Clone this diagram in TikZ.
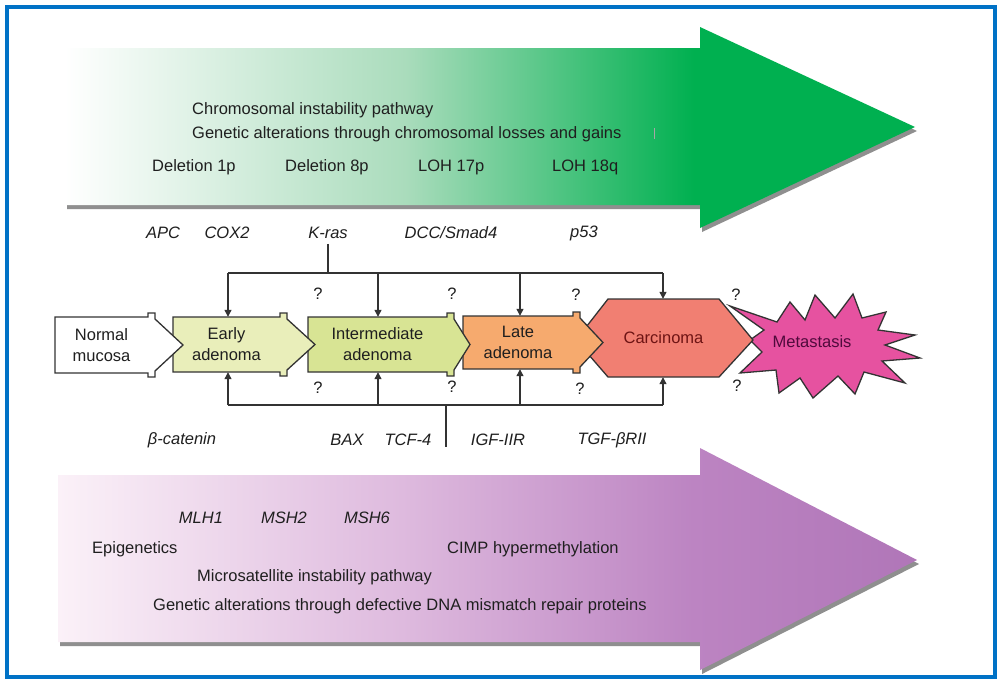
\documentclass[tikz,border=0pt]{standalone}
\usepackage{fontspec}
\setmainfont{Liberation Sans}
\usetikzlibrary{arrows.meta,shadows}
\definecolor{frameblue}{RGB}{0,114,198}
\definecolor{gwhite}{RGB}{255,255,255}
\definecolor{gmid}{RGB}{170,220,188}
\definecolor{gfull}{RGB}{0,176,80}
\definecolor{pwhite}{RGB}{251,241,248}
\definecolor{pmid}{RGB}{222,186,222}
\definecolor{pfull}{RGB}{188,132,194}
\definecolor{pend}{RGB}{176,118,184}
\definecolor{earlyfill}{RGB}{233,238,186}
\definecolor{interfill}{RGB}{216,228,148}
\definecolor{latefill}{RGB}{246,170,110}
\definecolor{carcfill}{RGB}{241,127,114}
\definecolor{metafill}{RGB}{230,82,160}
\definecolor{carctext}{RGB}{110,20,20}
\definecolor{metatext}{RGB}{80,10,60}
\pgfdeclarehorizontalshading{greensh}{100bp}{color(0bp)=(gwhite); color(25bp)=(gwhite); color(45bp)=(gmid); color(62bp)=(gfull); color(100bp)=(gfull)}
\pgfdeclarehorizontalshading{purplesh}{100bp}{color(0bp)=(pwhite); color(25bp)=(pwhite); color(45bp)=(pmid); color(62bp)=(pfull); color(75bp)=(pend); color(100bp)=(pend)}
\begin{document}
\begin{tikzpicture}[x=1pt,y=-1pt,
  lbl/.style={inner sep=1pt, font=\fontsize{16.5}{20}\selectfont, text=black!88},
  gene/.style={inner sep=1pt, font=\fontsize{16.5}{20}\selectfont\itshape, text=black!88},
  stagetxt/.style={inner sep=0pt, align=center, font=\fontsize{16.5}{21}\selectfont, text=black!88},
  stageline/.style={draw=black!80, line width=1.3pt, line join=miter},
  conn/.style={draw=black!80, line width=1.2pt},
  arr/.style={conn, -{Triangle[length=7pt,width=7pt]}},
  bigshadow/.style={drop shadow={shadow xshift=2pt, shadow yshift=-4pt, opacity=0.55, fill=black!80}}
]
\useasboundingbox (0,0) rectangle (998,678);
\fill[white] (0,0) rectangle (998,678);
\draw[line width=4pt, frameblue] (7,7) rectangle (995,677);

% big pathway arrows
\path[bigshadow, shading=greensh] (65,48) -- (700,48) -- (700,27) -- (915,127) -- (700,228) -- (700,205) -- (65,205) -- cycle;
\path[bigshadow, shading=purplesh] (58,475) -- (700,475) -- (700,448) -- (917,560) -- (700,670) -- (700,642) -- (58,642) -- cycle;
\draw[gray!70, line width=0.8pt] (654,128) -- (654,139);

% texts in green arrow
\node[lbl, anchor=west] (cin) at (191,110) {Chromosomal instability pathway};
\node[lbl, anchor=west] (cin2) at (191,134) {Genetic alterations through chromosomal losses and gains};
\node[lbl, anchor=west] (del1) at (151,167) {Deletion 1p};
\node[lbl, anchor=west] (del8) at (284,167) {Deletion 8p};
\node[lbl, anchor=west] (loh17) at (417,167) {LOH 17p};
\node[lbl, anchor=west] (loh18) at (551,167) {LOH 18q};

% texts in purple arrow
\node[gene] (mlh1) at (201,518) {MLH1};
\node[gene] (msh2) at (284,518) {MSH2};
\node[gene] (msh6) at (367,518) {MSH6};
\node[lbl, anchor=west] (epi) at (91,549) {Epigenetics};
\node[lbl, anchor=west] (cimp) at (446,549) {CIMP hypermethylation};
\node[lbl, anchor=west] (msi) at (196,577) {Microsatellite instability pathway};
\node[lbl, anchor=west] (msi2) at (152,606) {Genetic alterations through defective DNA mismatch repair proteins};

% stage shapes (drawn right to left so that each tip lies over the next box)
\filldraw[stageline, fill=metafill] (730,306) -- (777,322) -- (790,302) -- (805,320) -- (815,295) -- (835,318) -- (853,294) -- (862,318) -- (886,312) -- (878,330) -- (915,335) -- (885,345) -- (920,358) -- (882,361) -- (905,383) -- (864,372) -- (855,394) -- (838,376) -- (813,398) -- (800,378) -- (779,393) -- (776,370) -- (740,373) -- (762,352) -- (750,340) -- (764,330) -- cycle;
\filldraw[stageline, fill=carcfill] (608,299) -- (719,299) -- (753,340) -- (719,377) -- (608,377) -- (576,340) -- cycle;
\filldraw[stageline, fill=latefill] (463,316) -- (573,316) -- (573,312) -- (580,312) -- (580,318) -- (603,342.5) -- (580,367) -- (580,373) -- (573,373) -- (573,369) -- (463,369) -- cycle;
\filldraw[stageline, fill=interfill] (308,317) -- (447,317) -- (447,313) -- (454,313) -- (454,319) -- (470,344.5) -- (454,370) -- (454,376) -- (447,376) -- (447,372) -- (308,372) -- cycle;
\filldraw[stageline, fill=earlyfill] (173,317) -- (280,317) -- (280,313) -- (287,313) -- (287,319) -- (315,344.5) -- (287,370) -- (287,376) -- (280,376) -- (280,372) -- (173,372) -- cycle;
\filldraw[stageline, fill=white] (55,317) -- (148,317) -- (148,313) -- (155,313) -- (155,319) -- (183,345) -- (155,371) -- (155,377) -- (148,377) -- (148,373) -- (55,373) -- cycle;

% stage labels
\node[stagetxt, minimum width=93pt, minimum height=56pt] (normal) at (101.5,345) {Normal\\mucosa};
\node[stagetxt, minimum width=107pt, minimum height=55pt] (early) at (226.5,344.5) {Early\\adenoma};
\node[stagetxt, minimum width=139pt, minimum height=55pt] (inter) at (377.5,344.5) {Intermediate\\adenoma};
\node[stagetxt, minimum width=110pt, minimum height=53pt] (late) at (518,342.5) {Late\\adenoma};
\node[stagetxt, minimum width=111pt, minimum height=78pt, text=carctext] (carc) at (663.5,338) {Carcinoma};
\node[stagetxt, text=metatext] (meta) at (812,342) {Metastasis};

% gene labels
\node[gene] (apc) at (163,233) {APC};
\node[gene] (cox2) at (227,233) {COX2};
\node[gene] (kras) at (328,233) {K-ras};
\node[gene] (dcc) at (451,233) {DCC/Smad4};
\node[gene] (p53) at (584,233) {p53};
\node[gene] (bcat) at (182,440) {β-catenin};
\node[gene] (bax) at (347,440) {BAX};
\node[gene] (tcf4) at (408,440) {TCF-4};
\node[gene] (igf) at (498,440) {IGF-IIR};
\node[gene] (tgf) at (612,440) {TGF-βRII};

% question marks
\node[lbl] (qt1) at (318,294) {?};
\node[lbl] (qt2) at (452,294) {?};
\node[lbl] (qt3) at (576,295) {?};
\node[lbl] (qt4) at (736,295) {?};
\node[lbl] (qb1) at (318,388) {?};
\node[lbl] (qb2) at (452,387) {?};
\node[lbl] (qb3) at (580,389) {?};
\node[lbl] (qb4) at (737,386) {?};

% top connector
\coordinate (ta) at (228,273);
\coordinate (tb) at (378,273);
\coordinate (tc) at (520,273);
\coordinate (td) at (663,273);
\coordinate (tk) at (328,273);
\draw[conn] ([yshift=-4pt]kras.south) -- (tk);
\draw[conn] (ta) -- (td);
\draw[arr] (ta) -- (ta |- early.north);
\draw[arr] (tb) -- (tb |- inter.north);
\draw[arr] (tc) -- (tc |- late.north);
\draw[arr] (td) -- (td |- carc.north);

% bottom connector
\coordinate (ba) at (228,405);
\coordinate (bb) at (378,405);
\coordinate (bc) at (520,405);
\coordinate (bd) at (663,405);
\coordinate (bt) at (446,405);
\coordinate (btend) at (446,447);
\draw[conn] (ba) -- (bd);
\draw[conn] (bt) -- (btend);
\draw[arr] (ba) -- (ba |- early.south);
\draw[arr] (bb) -- (bb |- inter.south);
\draw[arr] (bc) -- (bc |- late.south);
\draw[arr] (bd) -- (bd |- carc.south);
\end{tikzpicture}
\end{document}
